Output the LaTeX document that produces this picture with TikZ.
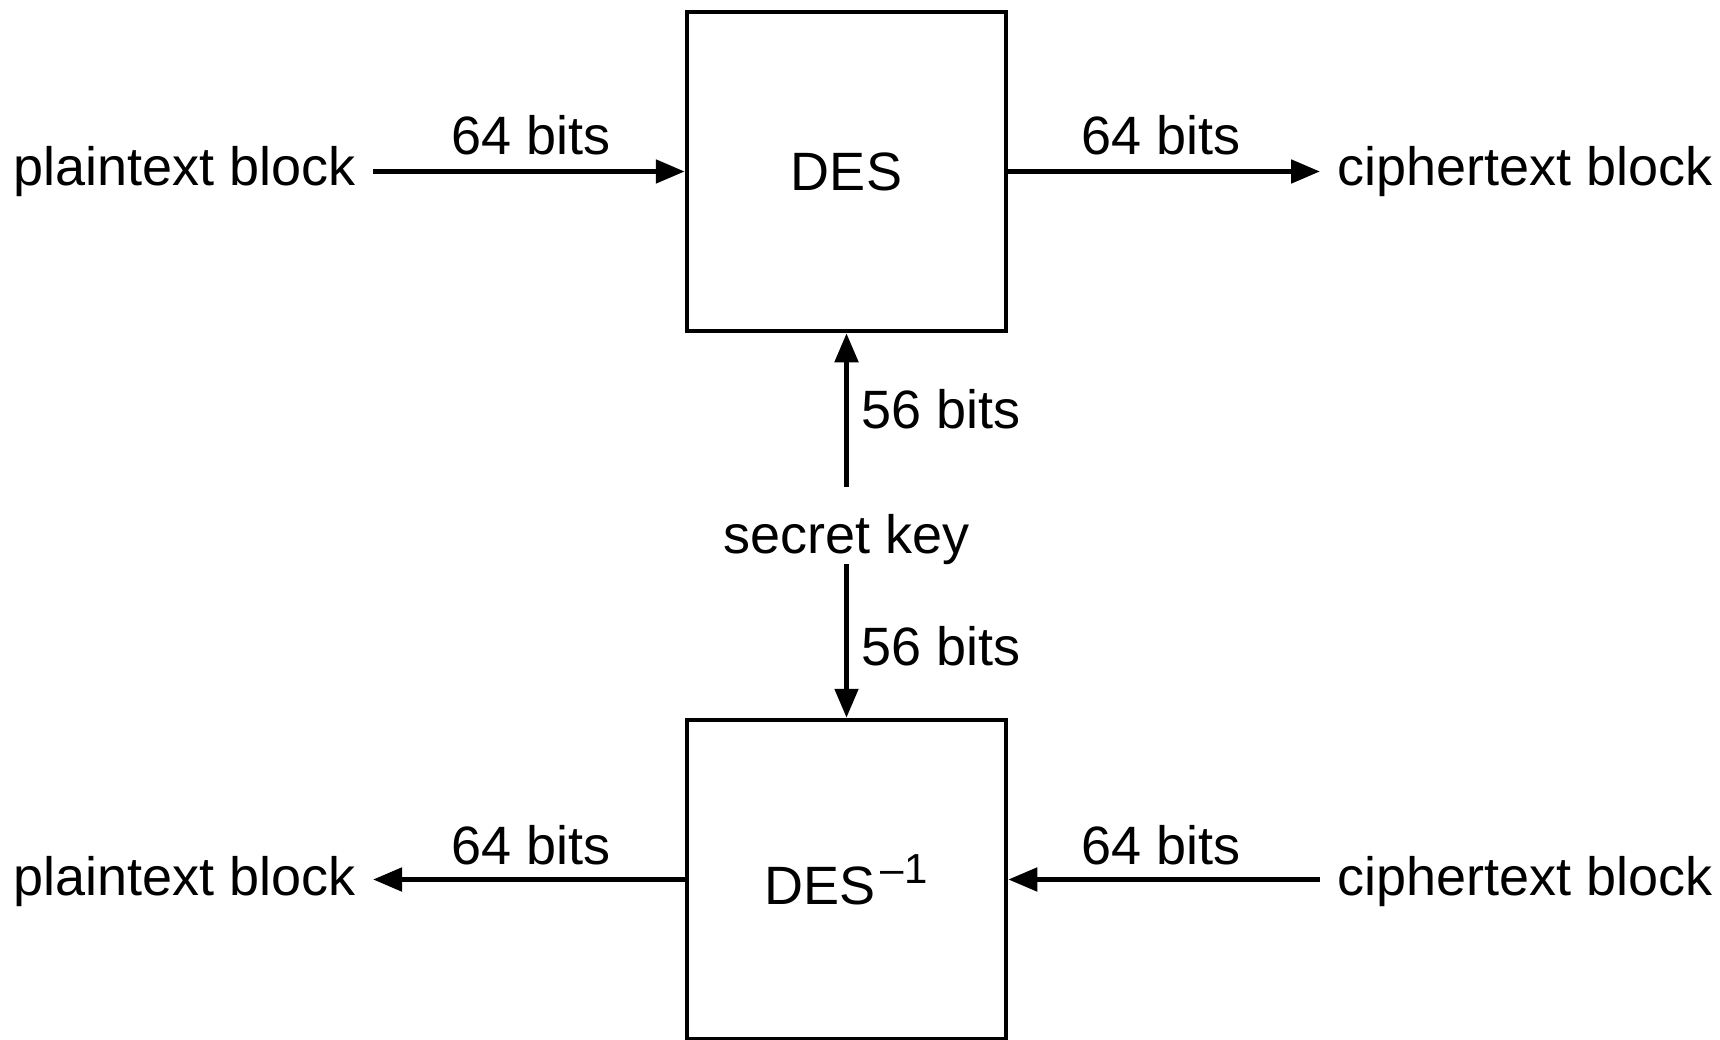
\documentclass[tikz,border=0pt]{standalone}
\usepackage{fontspec}
\setmainfont{Liberation Sans}
\usetikzlibrary{arrows.meta}
\begin{document}
\begin{tikzpicture}[x=1pt,y=-1pt,
  font=\fontsize{54pt}{60pt}\selectfont,
  block/.style={draw, line width=4.5pt, minimum width=319pt, minimum height=319pt, inner sep=0pt},
  arr/.style={line width=5pt, -{Triangle[length=29pt,width=23pt]}},
  lbl/.style={inner sep=0pt},
  endtext/.style={inner ysep=0pt, inner xsep=17pt}]
\useasboundingbox (0,0) rectangle (1720,1040);

% cipher boxes
\node[block] (des) at (846.5,171.5) {DES};
\node[block] (desinv) at (846.5,879.5)
  {DES\kern5pt\raisebox{21pt}{\fontsize{42pt}{42pt}\selectfont \textendash\kern1pt1}};

% block texts
\node[endtext, anchor=base east] (pt1) at (373,186) {plaintext block};
\node[endtext, anchor=base west] (ct1) at (1320,186) {ciphertext block};
\node[endtext, anchor=base east] (pt2) at (373,895) {plaintext block};
\node[endtext, anchor=base west] (ct2) at (1320,895) {ciphertext block};

% key
\node[lbl, anchor=base, text height=66pt, text depth=11pt] (key) at (846.5,553) {secret key};

% width labels
\node[lbl, anchor=base] (b1) at (531,155) {64 bits};
\node[lbl, anchor=base] (b2) at (1161,155) {64 bits};
\node[lbl, anchor=base west] (k1) at (861,428) {56 bits};
\node[lbl, anchor=base west] (k2) at (861,665) {56 bits};
\node[lbl, anchor=base] (b3) at (531,864) {64 bits};
\node[lbl, anchor=base] (b4) at (1161,864) {64 bits};

% data paths
\draw[arr] (pt1.east |- des.west) -- (des.west);
\draw[arr] (des.east) -- (ct1.west |- des.east);
\draw[arr] (desinv.west) -- (pt2.east |- desinv.west);
\draw[arr] (ct2.west |- desinv.east) -- (desinv.east);
\draw[arr] (key.north) -- (des.south);
\draw[arr] (key.south) -- (desinv.north);
\end{tikzpicture}
\end{document}
